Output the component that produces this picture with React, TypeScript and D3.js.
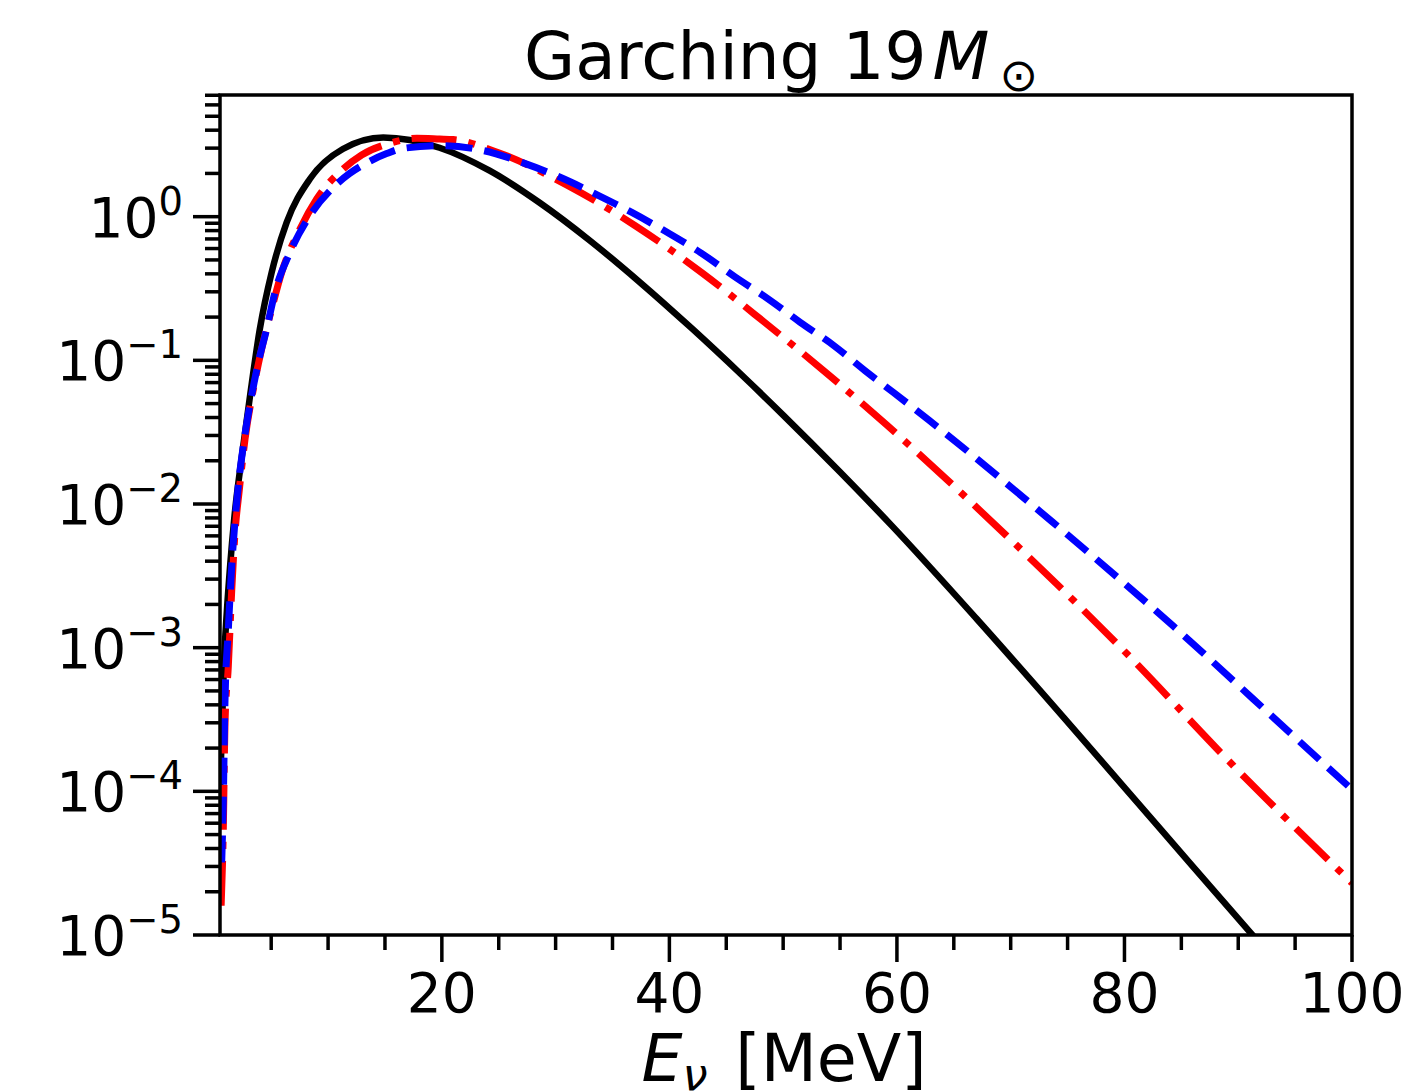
import React from 'react';
import * as d3 from 'd3';

// ---------- data ----------
// nu_e (black, solid)
const nueEnergy = [0.5, 0.85, 1.1, 1.4, 1.75, 2.4, 3.14, 4.0, 5.04, 6.36, 8.4, 11.3, 14.85, 19.8, 24.2, 28.6, 33.0, 37.4, 42.0, 46.2, 50.0, 55.0, 59.5, 67.0, 74.8, 83.0, 91.3, 93.0];
const nueFlux = [1.0e-4, 7.9e-4, 1.78e-3, 3.8e-3, 7.9e-3, 2.09e-2, 5.66e-2, 0.165, 0.409, 0.912, 1.83, 2.96, 3.56, 3.02, 2.09, 1.25, 0.683, 0.35, 0.166, 0.0813, 0.0416, 0.0167, 0.00713, 1.59e-3, 3.17e-4, 5.66e-5, 9.9e-6, 6.95e-6];

// anti nu_e (red, dash-dot)
const nuebarEnergy = [0.6, 0.79, 0.94, 1.23, 1.53, 1.82, 2.2, 2.7, 3.43, 4.16, 5.04, 5.92, 7.53, 9.0, 11.3, 12.95, 15.4, 17.8, 19.8, 21.0, 24.5, 31.0, 37.0, 42.9, 48.4, 53.8, 59.1, 69.65, 79.8, 89.6, 100];
const nuebarFlux = [1.6e-5, 5.4e-5, 3.0e-4, 7.4e-4, 2.5e-3, 6.3e-3, 1.26e-2, 2.83e-2, 6.3e-2, 0.12, 0.2275, 0.409, 0.82, 1.327, 2.14, 2.69, 3.24, 3.51, 3.47, 3.44, 2.88, 1.66, 0.865, 0.405, 0.183, 0.0817, 0.0355, 6.0e-3, 9.8e-4, 1.5e-4, 2.3e-5];

// nu_x (blue, dashed)
const nuxEnergy = [0.65, 0.79, 0.94, 1.23, 1.53, 2.11, 2.55, 3.14, 3.87, 4.6, 5.33, 6.65, 8.4, 10.6, 11.9, 13.4, 15.15, 16.6, 20.1, 23.7, 27.15, 30.4, 33.65, 36.7, 39.8, 42.8, 45.7, 48.7, 51.5, 54.5, 57.2, 59.7, 62.8, 73.7, 84.3, 94.8, 100];
const nuxFlux = [3.2e-5, 8.7e-5, 4.3e-4, 1.33e-3, 3.67e-3, 1.34e-2, 2.54e-2, 4.95e-2, 9.66e-2, 0.165, 0.297, 0.564, 1.016, 1.64, 2.0, 2.37, 2.75, 2.99, 3.12, 2.88, 2.37, 1.88, 1.42, 1.07, 0.778, 0.558, 0.384, 0.267, 0.184, 0.126, 0.0847, 0.0597, 0.0384, 7.46e-3, 1.41e-3, 2.45e-4, 1.03e-4];

const xMajorTicks = [20, 40, 60, 80, 100];
const xMinorTicks = [5, 10, 15, 25, 30, 35, 45, 50, 55, 65, 70, 75, 85, 90, 95];
const yMajorTicks = [1e-5, 1e-4, 1e-3, 1e-2, 1e-1, 1e0];
const yTickExponents = ['\u22125', '\u22124', '\u22123', '\u22122', '\u22121', '0'];
const xTickLabels = ['20', '40', '60', '80', '100'];

const xDomain: [number, number] = [0.5, 100];
const yDomain: [number, number] = [1e-5, 7.03];

// ---------- layout ----------
const W = 1415;
const H = 1091;
const L = 220, R = 1352, T = 95, B = 935;
const FONT = 'DejaVu Sans, sans-serif';

export default function App() {
  const x = d3.scaleLinear().domain(xDomain).range([L, R]);
  const y = d3.scaleLog().domain(yDomain).range([B, T]);

  const yMinor: number[] = [];
  for (let e = -5; e <= 0; e++) {
    for (let k = 2; k <= 9; k++) {
      const v = k * Math.pow(10, e);
      if (v <= yDomain[1] * 1.001) yMinor.push(v);
    }
  }

  const line = d3
    .line<[number, number]>()
    .x((d) => x(d[0]))
    .y((d) => y(d[1]))
    .curve(d3.curveMonotoneX);

  const series = [
    { e: nueEnergy, f: nueFlux, color: '#000000', dash: undefined as string | undefined, w: 6.5 },
    { e: nuebarEnergy, f: nuebarFlux, color: '#ff0000', dash: '45 12 7 12', w: 7 },
    { e: nuxEnergy, f: nuxFlux, color: '#0000ff', dash: '27 12', w: 7 },
  ];

  const majorLen = 27;
  const minorLen = 15;
  const tickW = 3.5;

  return (
    <svg width={W} height={H} style={{ display: 'block', position: 'absolute', left: 0, top: 0 }}>
      <rect x={0} y={0} width={W} height={H} fill="#ffffff" />
      <defs>
        <clipPath id="plotclip">
          <rect x={L} y={T} width={R - L} height={B - T} />
        </clipPath>
      </defs>

      <g clipPath="url(#plotclip)">
        {series.map((s, i) => (
          <path
            key={i}
            d={line(s.e.map((v, j) => [v, s.f[j]] as [number, number])) || ''}
            fill="none"
            stroke={s.color}
            strokeWidth={s.w}
            strokeDasharray={s.dash}
            strokeLinejoin="round"
          />
        ))}
      </g>

      {/* spines */}
      <rect x={L} y={T} width={R - L} height={B - T} fill="none" stroke="#000" strokeWidth={3.5} />

      {/* x ticks */}
      {xMajorTicks.map((t, i) => (
        <g key={'xm' + i}>
          <line x1={x(t)} x2={x(t)} y1={B} y2={B + majorLen} stroke="#000" strokeWidth={tickW} />
          <text x={x(t)} y={1012} textAnchor="middle" fontFamily={FONT} fontSize={55} fill="#000">
            {xTickLabels[i]}
          </text>
        </g>
      ))}
      {xMinorTicks.map((t, i) => (
        <line key={'xn' + i} x1={x(t)} x2={x(t)} y1={B} y2={B + minorLen} stroke="#000" strokeWidth={tickW} />
      ))}

      {/* y ticks */}
      {yMajorTicks.map((t, i) => (
        <g key={'ym' + i}>
          <line x1={L - majorLen} x2={L} y1={y(t)} y2={y(t)} stroke="#000" strokeWidth={tickW} />
          <text x={183} y={y(t) + 20} textAnchor="end" fontFamily={FONT} fontSize={55} fill="#000">
            <tspan>10</tspan>
            <tspan fontSize={38.5} dy={-22}>{yTickExponents[i]}</tspan>
          </text>
        </g>
      ))}
      {yMinor.map((t, i) => (
        <line key={'yn' + i} x1={L - minorLen} x2={L} y1={y(t)} y2={y(t)} stroke="#000" strokeWidth={tickW} />
      ))}

      {/* title */}
      <text x={524} y={79} fontFamily={FONT} fontSize={66} fill="#000">
        <tspan>Garching 19</tspan>
        <tspan fontStyle="italic" dx={6}>M</tspan>
        <tspan fontSize={46} dx={10} dy={12}>{'\u2299'}</tspan>
      </text>

      {/* x label */}
      <text x={784} y={1081} textAnchor="middle" fontFamily={FONT} fontSize={65} fill="#000">
        <tspan fontStyle="italic">E</tspan>
        <tspan fontStyle="italic" fontSize={45} dy={9}>{'\u03bd'}</tspan>
        <tspan dy={-9} dx={7}>{' [MeV]'}</tspan>
      </text>
    </svg>
  );
}
